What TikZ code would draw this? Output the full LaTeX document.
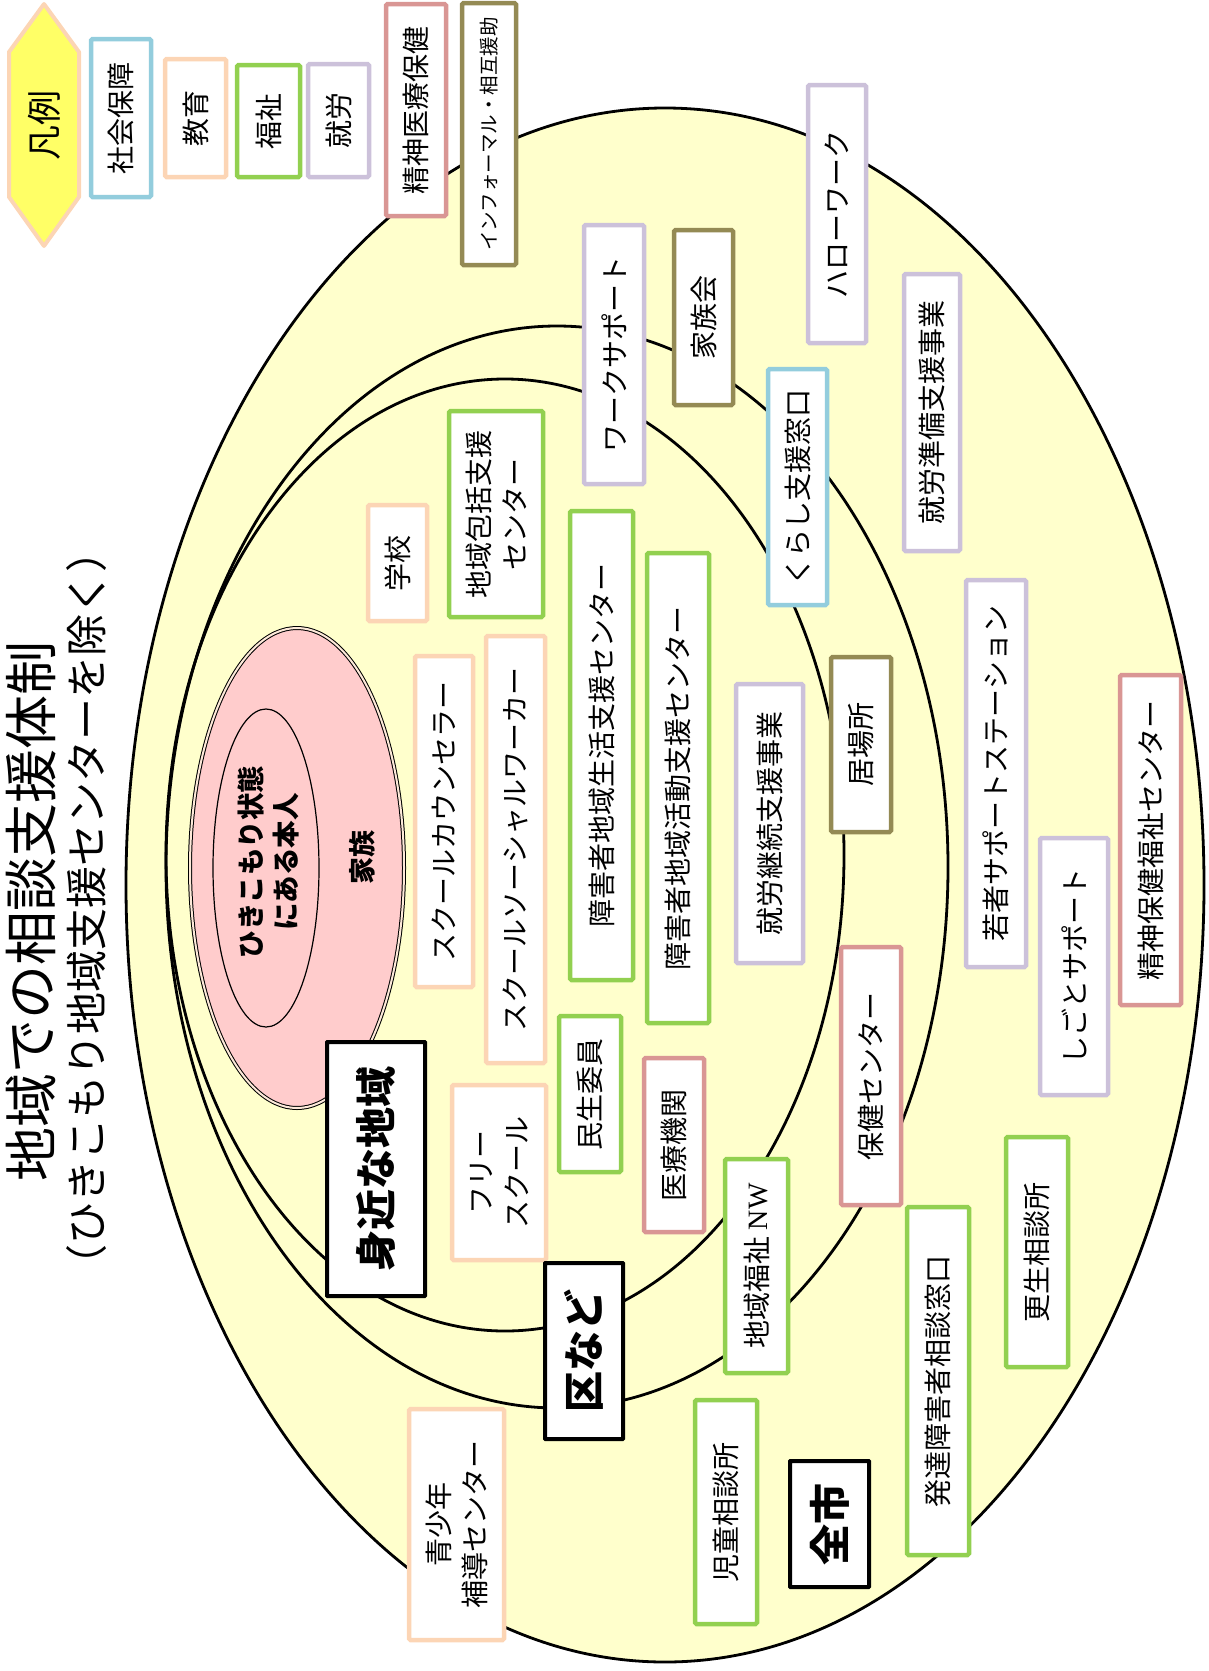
\documentclass[tikz,border=0pt]{standalone}
\usepackage{fontspec}
\newfontfamily\jp{Noto Sans CJK JP}
\newfontfamily\tms{Liberation Serif}
\definecolor{ylw}{HTML}{FFFFCC}
\definecolor{hexfill}{HTML}{FFFF66}
\definecolor{pinkfill}{HTML}{FFCCCC}
\definecolor{cblue}{HTML}{93CDDD}
\definecolor{cpeach}{HTML}{FCD5B5}
\definecolor{cgreen}{HTML}{92D050}
\definecolor{clav}{HTML}{CCC1DA}
\definecolor{cpink}{HTML}{D99694}
\definecolor{colive}{HTML}{948A54}
\definecolor{dbl}{HTML}{FDE9D9}
\tikzset{
  box/.style={draw, fill=white, line width=4.5pt, rounded corners=1.5pt, rotate=90, inner sep=0pt, align=center, font=\jp\fontsize{28}{36}\selectfont},
  bpeach/.style={box, draw=cpeach},
  bgreen/.style={box, draw=cgreen},
  blav/.style={box, draw=clav},
  bblue/.style={box, draw=cblue},
  bpink/.style={box, draw=cpink},
  bolive/.style={box, draw=colive},
  bblack/.style={box, draw=black, line width=4pt, rounded corners=0.5pt, font=\jp\bfseries\fontsize{41}{44}\selectfont},
  ring/.style={draw=black, line width=2.8pt},
  vtext/.style={rotate=90, inner sep=0pt, align=center}
}
\begin{document}
\begin{tikzpicture}[x=1pt,y=-1pt]
\useasboundingbox (0,0) rectangle (1208,1671);

% ellipses
\draw[ring, fill=ylw] (665,885) ellipse [x radius=539pt, y radius=777pt];
\draw[ring] (557,867) ellipse [x radius=391pt, y radius=541pt];
\draw[ring] (505,855) ellipse [x radius=339pt, y radius=476pt];
\draw[line width=1pt, double=dbl, double distance=2pt, fill=pinkfill] (297,868) ellipse [x radius=107pt, y radius=240pt];
\draw[line width=1.2pt] (266,868) ellipse [x radius=53pt, y radius=159pt];

% titles
\node[vtext, font=\jp\fontsize{54}{60}\selectfont] (title) at (31,911) {地域での相談支援体制};
\node[vtext, font=\jp\fontsize{42}{46}\selectfont] (subtitle) at (87,908) {（ひきこもり地域支援センターを除く）};

% legend
\draw[draw=cpeach, fill=hexfill, line width=4pt, line join=round] (44,4) -- (79,52) -- (79,197) -- (44,246) -- (9,197) -- (9,52) -- cycle;
\node[vtext, font=\jp\fontsize{35}{40}\selectfont] (legend) at (44,125) {凡例};
\node[bblue,  minimum width=158pt, minimum height=60pt] (soc) at (121,118) {社会保障};
\node[bpeach, minimum width=118pt, minimum height=61pt] (edu) at (195.5,118) {教育};
\node[bgreen, minimum width=112pt, minimum height=63pt] (wel) at (268.5,121) {福祉};
\node[blav,   minimum width=113pt, minimum height=61pt] (emp) at (338.5,120.5) {就労};
\node[bpink,  minimum width=212pt, minimum height=60pt] (med) at (416,110) {精神医療保健};
\node[bolive, minimum width=262pt, minimum height=54pt, font=\jp\fontsize{19.5}{22}\selectfont] (inf) at (489,134) {インフォーマル・相互援助};

% family
\node[vtext, font=\jp\bfseries\fontsize{27.5}{35}\selectfont] (hiki) at (268,862) {ひきこもり状態\\にある本人};
\node[vtext, font=\jp\bfseries\fontsize{27}{30}\selectfont] (kazoku) at (362,857) {家族};

% boxes
\node[bpeach, minimum width=116pt, minimum height=59pt] (school) at (397.5,563) {学校};
\node[bgreen, minimum width=206pt, minimum height=94pt] (hokatsu) at (496,514) {地域包括支援\\センター};
\node[bpeach, minimum width=331pt, minimum height=58pt] (sc) at (444,821.5) {スクールカウンセラー};
\node[bpeach, minimum width=427pt, minimum height=59pt] (ssw) at (515.5,849.5) {スクールソーシャルワーカー};
\node[blav,   minimum width=259pt, minimum height=60pt] (ws) at (614,354.5) {ワークサポート};
\node[bolive, minimum width=175pt, minimum height=59pt] (kazokukai) at (703.5,317.5) {家族会};
\node[bblue,  minimum width=236pt, minimum height=59pt] (kurashi) at (797.5,487) {くらし支援窓口};
\node[blav,   minimum width=258pt, minimum height=58pt] (hw) at (837,214) {ハローワーク};
\node[blav,   minimum width=277pt, minimum height=56pt] (junbi) at (932,412.5) {就労準備支援事業};
\node[bgreen, minimum width=469pt, minimum height=63pt] (seikatsu) at (601.5,745.5) {障害者地域生活支援センター};
\node[bgreen, minimum width=470pt, minimum height=62pt] (katsudo) at (678,788) {障害者地域活動支援センター};
\node[blav,   minimum width=279pt, minimum height=67pt] (keizoku) at (769.5,823.5) {就労継続支援事業};
\node[bolive, minimum width=175pt, minimum height=60pt] (ibasho) at (861,744.5) {居場所};
\node[blav,   minimum width=387pt, minimum height=60pt] (wakamono) at (996,773.5) {若者サポートステーション};
\node[blav,   minimum width=257pt, minimum height=68pt] (shigoto) at (1074,966.5) {しごとサポート};
\node[bpink,  minimum width=330pt, minimum height=61pt] (seiho) at (1150.5,840) {精神保健福祉センター};
\node[bpink,  minimum width=258pt, minimum height=60pt] (hoken) at (871,1076) {保健センター};
\node[bpink,  minimum width=174pt, minimum height=60pt] (iryo) at (674,1145) {医療機関};
\node[bgreen, minimum width=156pt, minimum height=62pt] (minsei) at (590,1094) {民生委員};
\node[bpeach, minimum width=175pt, minimum height=94pt] (free) at (499,1172.5) {フリー\\スクール};
\node[bblack, minimum width=254pt, minimum height=98pt] (mijika) at (376,1169) {身近な地域};
\node[bblack, minimum width=176pt, minimum height=78pt] (ku) at (584,1351) {区など};
\node[bgreen, minimum width=214pt, minimum height=63pt] (nw) at (756.5,1266) {地域福祉 {\tms NW}};
\node[bgreen, minimum width=348pt, minimum height=62pt] (hattatsu) at (938,1381) {発達障害者相談窓口};
\node[bgreen, minimum width=230pt, minimum height=62pt] (kosei) at (1037,1252) {更生相談所};
\node[bgreen, minimum width=224pt, minimum height=62pt] (jido) at (726,1512) {児童相談所};
\node[bblack, minimum width=126pt, minimum height=79pt] (zenshi) at (829.5,1524) {全市};
\node[bpeach, minimum width=231pt, minimum height=95pt] (seishonen) at (456.5,1524.5) {青少年\\補導センター};
\end{tikzpicture}
\end{document}
